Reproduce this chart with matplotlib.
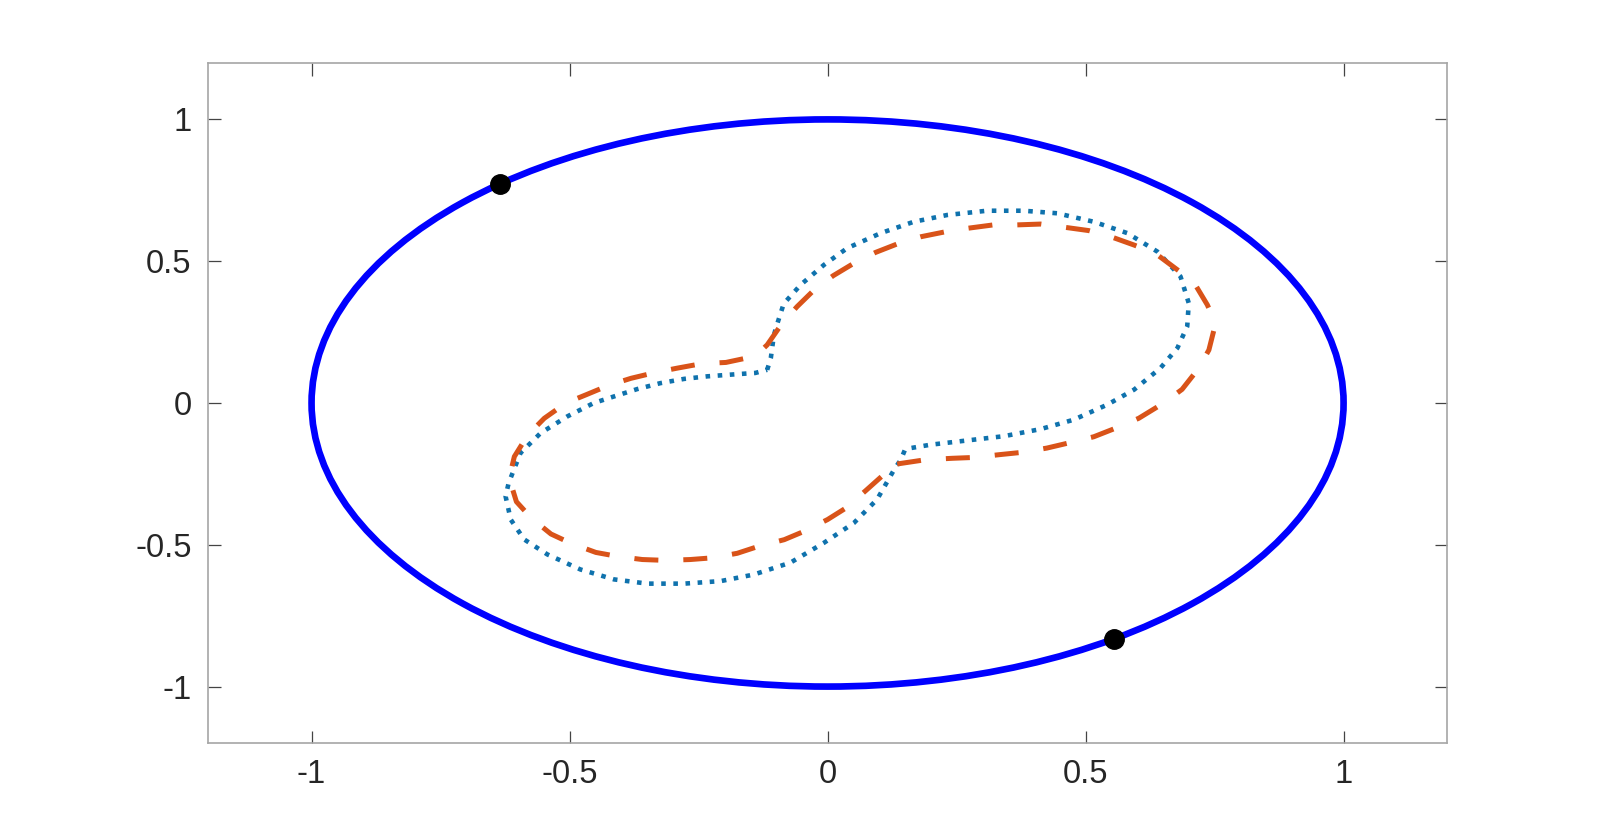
import matplotlib
matplotlib.use("Agg")
import matplotlib.pyplot as plt
from matplotlib.patches import Circle

plt.rcParams['font.family'] = ['Liberation Sans', 'DejaVu Sans']
plt.rcParams['axes.unicode_minus'] = False

# outer boundary (unit circle) and the two marked points on it
circle_center = (0.0, 0.0)
circle_radius = 1.0
dot_x = [-0.634, 0.555]
dot_y = [0.774, -0.833]

# dotted (blue-teal) peanut curve
dotted_x = [-0.117, -0.110, -0.104, -0.097, -0.085, -0.052, -0.007, 0.038, 0.103, 0.167,
            0.232, 0.309, 0.380, 0.445, 0.516, 0.581, 0.639, 0.684, 0.700, 0.697,
            0.678, 0.645, 0.594, 0.542, 0.477, 0.413, 0.342, 0.271, 0.200, 0.161,
            0.150, 0.142, 0.129, 0.096, 0.051, -0.007, -0.072, -0.143, -0.207, -0.278,
            -0.349, -0.414, -0.479, -0.543, -0.588, -0.614, -0.624, -0.618, -0.595, -0.556,
            -0.504, -0.453, -0.414, -0.369, -0.324, -0.278, -0.233, -0.188, -0.140, -0.117]
dotted_y = [0.117, 0.158, 0.240, 0.282, 0.350, 0.417, 0.487, 0.546, 0.599, 0.639,
            0.663, 0.678, 0.678, 0.669, 0.639, 0.599, 0.534, 0.446, 0.352, 0.270,
            0.194, 0.123, 0.047, -0.006, -0.059, -0.092, -0.117, -0.132, -0.147, -0.159,
            -0.165, -0.200, -0.235, -0.340, -0.423, -0.493, -0.563, -0.605, -0.628, -0.637,
            -0.637, -0.622, -0.587, -0.534, -0.481, -0.411, -0.329, -0.282, -0.176, -0.106,
            -0.047, 0.000, 0.023, 0.049, 0.070, 0.085, 0.094, 0.100, 0.106, 0.117]

# dashed (orange) peanut curve
dashed_x = [0.135, 0.190, 0.242, 0.284, 0.334, 0.377, 0.425, 0.467, 0.516, 0.558,
            0.603, 0.638, 0.655, 0.687, 0.719, 0.739, 0.752, 0.736, 0.709, 0.674,
            0.635, 0.594, 0.548, 0.506, 0.458, 0.413, 0.366, 0.321, 0.271, 0.229,
            0.180, 0.138, 0.093, 0.053, 0.011, -0.023, -0.059, -0.088, -0.117, -0.140,
            -0.197, -0.243, -0.291, -0.333, -0.381, -0.423, -0.468, -0.507, -0.549, -0.581,
            -0.607, -0.617, -0.603, -0.574, -0.536, -0.497, -0.449, -0.407, -0.359, -0.314,
            -0.266, -0.223, -0.175, -0.133, -0.084, -0.046, 0.000, 0.035, 0.074, 0.106, 0.135]
dashed_y = [-0.215, -0.200, -0.195, -0.192, -0.182, -0.174, -0.159, -0.141, -0.119, -0.089,
            -0.054, -0.015, 0.005, 0.048, 0.122, 0.187, 0.281, 0.346, 0.428, 0.475,
            0.528, 0.557, 0.587, 0.608, 0.620, 0.631, 0.628, 0.628, 0.616, 0.604,
            0.586, 0.563, 0.531, 0.495, 0.449, 0.404, 0.340, 0.281, 0.205, 0.165,
            0.143, 0.139, 0.123, 0.108, 0.087, 0.063, 0.029, 0.000, -0.054, -0.113,
            -0.189, -0.265, -0.348, -0.406, -0.462, -0.495, -0.527, -0.541, -0.552, -0.555,
            -0.552, -0.546, -0.530, -0.505, -0.482, -0.453, -0.411, -0.371, -0.309, -0.257, -0.215]

ticks = [-1, -0.5, 0, 0.5, 1]
tick_labels = ['-1', '-0.5', '0', '0.5', '1']

fig = plt.figure(figsize=(15.99, 8.36), dpi=100)
ax = fig.add_axes([0.1303, 0.1109, 0.7745, 0.8141])

ax.add_patch(Circle(circle_center, circle_radius, fill=False, edgecolor='#0000FF', linewidth=4.8))
ax.plot(dotted_x, dotted_y, color='#0f72ad', linestyle=':', linewidth=3.3)
ax.plot(dashed_x, dashed_y, color='#D95319', linestyle=(0, (4.8, 5.0)), linewidth=3.6)
ax.plot(dot_x, dot_y, 'o', color='black', markersize=14)

ax.set_xlim(-1.2, 1.2)
ax.set_ylim(-1.2, 1.2)
ax.set_xticks(ticks)
ax.set_xticklabels(tick_labels)
ax.set_yticks(ticks)
ax.set_yticklabels(tick_labels)

for s in ax.spines.values():
    s.set_color('#a6a6a6')
    s.set_linewidth(1.2)
ax.tick_params(direction='in', length=9, width=0.9, color='#444444',
               top=True, right=True, labelsize=23.5, labelcolor='#262626')
ax.tick_params(axis='x', pad=11)
ax.tick_params(axis='y', pad=12)

fig.savefig('out.png', dpi=100)
